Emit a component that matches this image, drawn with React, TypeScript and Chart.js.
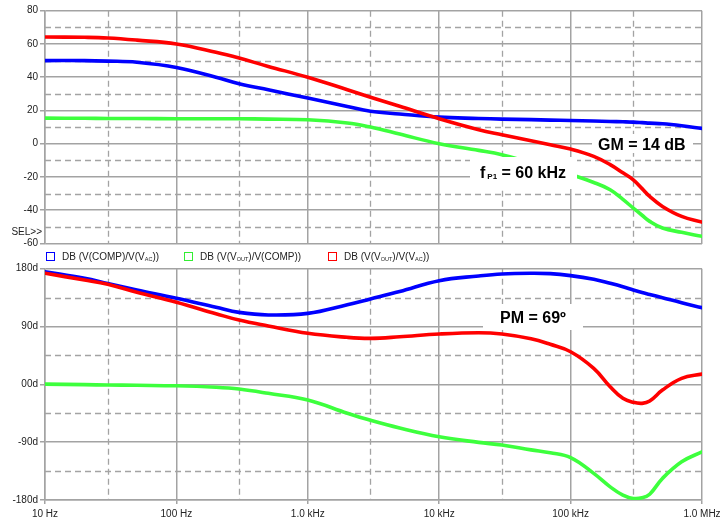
import React, { useEffect, useRef } from 'react';
import { Chart, registerables } from 'chart.js';

Chart.register(...registerables);

// ---------- data ----------
const freqs = [10, 20, 30, 50, 100, 200, 300, 500, 1e3, 2e3, 3e3, 5e3, 1e4, 2e4, 3e4, 5e4, 7e4, 1e5, 1.5e5, 2e5, 2.5e5, 3e5, 3.5e5, 4e5, 5e5, 7e5, 1e6];

// magnitude (dB)
const magComp = [50, 50, 49.7, 49, 45.9, 40, 36.1, 32.4, 27.5, 22.4, 19.5, 17.9, 16, 15.2, 14.8, 14.5, 14.2, 14, 13.7, 13.4, 13.2, 13, 12.7, 12.4, 12, 10.8, 9.2];
const magOut = [15.4, 15.3, 15.2, 15.2, 15, 15, 15, 14.8, 14.4, 12.5, 10, 5.8, 0, -4, -6.6, -11.5, -14.5, -18.5, -23.3, -27.7, -33.5, -38.7, -43, -46.7, -50.7, -53.3, -55.7];
const magLoop = [64.2, 64, 63.6, 62.3, 60, 55, 51.5, 46.5, 40, 32.5, 28, 22.5, 15, 8.4, 5.4, 1.8, -0.6, -3.2, -7.6, -12.6, -17.5, -21.7, -27, -31.7, -37.7, -43.7, -47.1];

// phase (deg)
const phComp = [175.4, 165, 157, 147, 134, 120, 112, 108, 110.5, 124, 133, 144.5, 161.4, 168.7, 171.8, 172.9, 172.3, 169.2, 163.5, 157.3, 152, 146.9, 143, 140, 134.9, 127, 119.3];
const phOut = [0.4, -0.5, -1, -1.5, -2.2, -4.5, -7.3, -14, -24.5, -45, -56, -68, -81.6, -90.3, -94.5, -102, -106.5, -114, -138.6, -159.5, -172.4, -177.6, -176.6, -171, -146.4, -120.5, -105];
const phLoop = [172.9, 162.4, 155.7, 143.3, 127.7, 110, 100, 90.8, 79.4, 73.2, 71.6, 74, 78.4, 80.4, 78.4, 71, 62.3, 50.8, 24.9, -3.7, -21.8, -28, -29.6, -26, -8.9, 9.3, 16];

const xTickValues = [10, 100, 1e3, 1e4, 1e5, 1e6];
const xTickLabels = ['10 Hz', '100 Hz', '1.0 kHz', '10 kHz', '100 kHz', '1.0 MHz'];
const xMinorValues = [30, 300, 3e3, 3e4, 3e5];
const magMinorValues = [70, 50, 30, 10, -10, -30, -50];
const phaseTickValues = [-180, -90, 0, 90, 180];
const phaseTickLabels = ['-180d', '-90d', '00d', '90d', '180d'];
const phaseMinorValues = [135, 45, -45, -135];

const seriesColors = ['#0000ff', '#3dff3d', '#ff0000'];
const legendBoxColors = ['#0000ff', '#33ee33', '#ff0000'];
const legendMain = ['DB (V(COMP)/V(V', 'DB (V(V', 'DB (V(V'];
const legendSub1 = ['AC', 'OUT', 'OUT'];
const legendMid = ['))', ')/V(COMP))', ')/V(V'];
const legendSub2 = ['', '', 'AC'];
const legendEnd = ['', '', '))'];

const FONT = '"Liberation Sans", Arial, Helvetica, sans-serif';
const GRID = '#a3a3a3';
const TEXT = '#222222';

const pts = (vals: number[]) => freqs.map((f, i) => ({ x: f, y: vals[i] }));

const dashedGrid = (yMinor: number[]) => ({
  id: 'dashedGrid',
  beforeDatasetsDraw(chart: any) {
    const { ctx, chartArea: a, scales } = chart;
    ctx.save();
    ctx.strokeStyle = GRID;
    ctx.lineWidth = 1.3;
    ctx.setLineDash([6, 4]);
    ctx.beginPath();
    for (const v of xMinorValues) {
      const x = Math.round(scales.x.getPixelForValue(v)) + 0.5;
      ctx.moveTo(x, a.top);
      ctx.lineTo(x, a.bottom);
    }
    for (const v of yMinor) {
      const y = Math.round(scales.y.getPixelForValue(v)) + 0.5;
      ctx.moveTo(a.left, y);
      ctx.lineTo(a.right, y);
    }
    ctx.stroke();
    ctx.restore();
  },
});

const topLabels = {
  id: 'topLabels',
  afterDatasetsDraw(chart: any) {
    const { ctx } = chart;
    ctx.save();
    ctx.fillStyle = '#ffffff';
    ctx.fillRect(592, 134, 101, 19);
    ctx.fillRect(470, 157, 107, 32);
    ctx.fillStyle = '#000000';
    ctx.font = `bold 16px ${FONT}`;
    ctx.textBaseline = 'alphabetic';
    ctx.textAlign = 'left';
    ctx.fillText('GM = 14 dB', 598, 149.5);
    ctx.fillText('f', 480, 177.5);
    const fw = ctx.measureText('f').width;
    ctx.font = `bold 8px ${FONT}`;
    ctx.fillText('P1', 480 + fw + 2, 179);
    const pw = ctx.measureText('P1').width;
    ctx.font = `bold 16px ${FONT}`;
    ctx.fillText(' = 60 kHz', 480 + fw + 2 + pw, 177.5);
    ctx.font = `10px ${FONT}`;
    ctx.fillStyle = TEXT;
    ctx.textAlign = 'right';
    ctx.fillText('SEL>>', 42, 235);
    ctx.restore();
  },
};

const bottomLabels = {
  id: 'bottomLabels',
  afterDatasetsDraw(chart: any) {
    const { ctx } = chart;
    ctx.save();
    ctx.fillStyle = '#ffffff';
    ctx.fillRect(483, 54, 100, 26);
    ctx.fillStyle = '#000000';
    ctx.font = `bold 16px ${FONT}`;
    ctx.textBaseline = 'alphabetic';
    ctx.textAlign = 'left';
    ctx.fillText('PM = 69º', 500, 72.5);
    ctx.restore();
  },
};

function datasets(a: number[], b: number[], c: number[]) {
  const common = { pointRadius: 0, borderWidth: 3.6, fill: false, tension: 0.4, borderCapStyle: 'round' as const, borderJoinStyle: 'round' as const };
  return [
    { label: 'comp', data: pts(a), borderColor: seriesColors[0], order: 2, ...common },
    { label: 'out', data: pts(b), borderColor: seriesColors[1], order: 1, ...common },
    { label: 'loop', data: pts(c), borderColor: seriesColors[2], order: 0, ...common },
  ];
}

function xScale(showLabels: boolean) {
  return {
    type: 'logarithmic' as const,
    min: 10,
    max: 1e6,
    afterBuildTicks: (s: any) => {
      s.ticks = xTickValues.map((v) => ({ value: v }));
    },
    ticks: {
      display: showLabels,
      autoSkip: false,
      maxRotation: 0,
      padding: 4,
      color: TEXT,
      font: { family: FONT, size: 10 },
      callback: (_v: any, i: number) => xTickLabels[i],
    },
    grid: { color: GRID, lineWidth: 1.5, drawTicks: showLabels, tickLength: 4 },
    border: { display: showLabels, color: GRID, width: 1.5 },
    afterFit: (s: any) => {
      s.height = showLabels ? 21 : 0;
      s.paddingLeft = 0;
      s.paddingRight = 0;
    },
  };
}

export default function App() {
  const topRef = useRef<HTMLCanvasElement>(null);
  const botRef = useRef<HTMLCanvasElement>(null);

  useEffect(() => {
    const top = new Chart(topRef.current!, {
      type: 'line',
      data: { datasets: datasets(magComp, magOut, magLoop) as any },
      options: {
        animation: false,
        responsive: false,
        maintainAspectRatio: false,
        layout: { padding: { left: 0, right: 19, top: 10.7, bottom: 6.5 } },
        plugins: { legend: { display: false }, tooltip: { enabled: false } },
        scales: {
          x: xScale(false) as any,
          y: {
            min: -60,
            max: 80,
            ticks: { stepSize: 20, color: TEXT, font: { family: FONT, size: 10 }, padding: 2 },
            grid: { color: GRID, lineWidth: 1.5, tickLength: 5 },
            border: { display: true, color: GRID, width: 1.5 },
            afterFit: (s: any) => {
              s.width = 45;
              s.paddingTop = 0;
              s.paddingBottom = 0;
            },
          },
        },
      },
      plugins: [dashedGrid(magMinorValues), topLabels],
    });

    const bot = new Chart(botRef.current!, {
      type: 'line',
      data: { datasets: datasets(phComp, phOut, phLoop) as any },
      options: {
        animation: false,
        responsive: false,
        maintainAspectRatio: false,
        layout: { padding: { left: 0, right: 19, top: 18.7, bottom: 0 } },
        plugins: { legend: { display: false }, tooltip: { enabled: false } },
        scales: {
          x: xScale(true) as any,
          y: {
            min: -180,
            max: 180,
            afterBuildTicks: (s: any) => {
              s.ticks = phaseTickValues.map((v) => ({ value: v }));
            },
            ticks: {
              color: TEXT,
              font: { family: FONT, size: 10 },
              padding: 2,
              callback: (_v: any, i: number) => phaseTickLabels[i],
            },
            grid: { color: GRID, lineWidth: 1.5, tickLength: 5 },
            border: { display: true, color: GRID, width: 1.5 },
            afterFit: (s: any) => {
              s.width = 45;
              s.paddingTop = 0;
              s.paddingBottom = 0;
            },
          },
        },
      },
      plugins: [dashedGrid(phaseMinorValues), bottomLabels],
    });

    return () => {
      top.destroy();
      bot.destroy();
    };
  }, []);

  const legendX = [46, 184, 328];
  const subStyle: React.CSSProperties = { fontSize: '5.5px', verticalAlign: '-1px' };

  return (
    <div style={{ position: 'absolute', left: 0, top: 0, width: 721, height: 521, background: '#fff', overflow: 'hidden' }}>
      <canvas ref={topRef} width={721} height={250} style={{ position: 'absolute', left: 0, top: 0, width: 721, height: 250 }} />
      <canvas ref={botRef} width={721} height={271} style={{ position: 'absolute', left: 0, top: 250, width: 721, height: 271 }} />
      {legendX.map((lx, i) => (
        <React.Fragment key={i}>
          <div
            style={{
              position: 'absolute',
              left: lx,
              top: 252,
              width: 9,
              height: 9,
              border: `1.5px solid ${legendBoxColors[i]}`,
              boxSizing: 'border-box',
            }}
          />
          <div
            style={{
              position: 'absolute',
              left: lx + 16,
              top: 250,
              fontFamily: FONT,
              fontSize: '10px',
              lineHeight: '13px',
              color: TEXT,
              whiteSpace: 'nowrap',
            }}
          >
            {legendMain[i]}
            <span style={subStyle}>{legendSub1[i]}</span>
            {legendMid[i]}
            {legendSub2[i] ? <span style={subStyle}>{legendSub2[i]}</span> : null}
            {legendEnd[i]}
          </div>
        </React.Fragment>
      ))}
    </div>
  );
}
